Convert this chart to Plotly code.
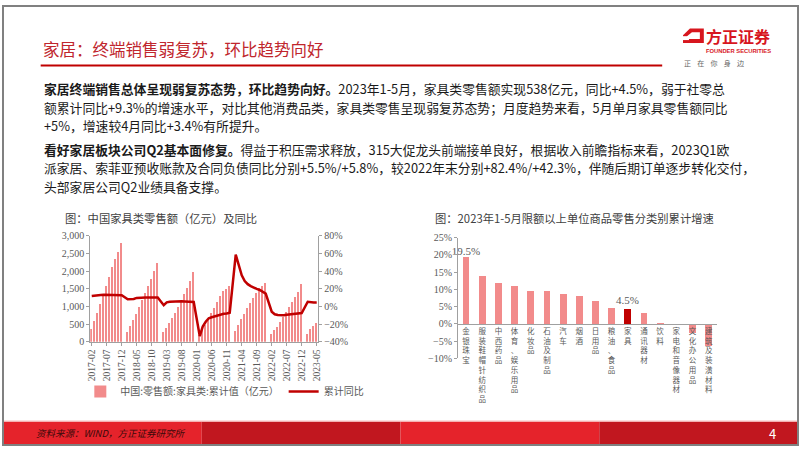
import plotly.graph_objects as go

W, H = 802, 451
def px(x): return x / W
def py(y): return 1 - y / H

# ---------------- data ----------------
month_labels = [f"{y}-{m:02d}" for y in range(2017, 2024) for m in range(1, 13)]
month_labels = month_labels[1:month_labels.index("2023-05") + 1]

furniture_sales = [
    365, 600, 825, 1070, 1330, 1590, 1840, 2110, 2360, 2535, 2790,
    None, 280, 445, 620, 800, 1000, 1190, 1390, 1580, 1790, 2010, 2250,
    None, 280, 390, 530, 670, 830, 990, 1170, 1350, 1540, 1730, 1970,
    None, 195, 330, 480, 645, 815, 970, 1130, 1300, 1440, 1500, 1598,
    None, 300, 470, 640, 800, 960, 1110, 1250, 1390, 1520, 1600, 1667,
    None, 230, 330, 440, 580, 720, 860, 1000, 1140, 1280, 1420, 1635,
    None, 230, 360, 448, 538,
]
furniture_yoy = [
    11.9, 12.5, 12.8, 13.0, 13.1, 13.1, 13.0, 12.9, 12.9, 12.7, 12.6,
    None, 8.1, 8.3, 8.4, 9.7, 10.0, 10.1, 10.1, 10.0, 10.1, 10.0, 10.1,
    None, 1.4, 4.6, 5.3, 5.6, 5.7, 5.8, 5.8, 5.7, 5.6, 5.3, 5.1,
    None, -33.5, -22.7, -17.3, -13.3, -12.2, -11.2, -9.9, -8.4, -8.2, -7.9, -7.0,
    None, 58.6, 46.8, 35.2, 28.7, 25.2, 23.0, 20.9, 19.8, 18.6, 16.4, 14.5,
    None, -6.0, -8.8, -9.6, -10.1, -9.9, -9.4, -9.1, -8.7, -8.5, -8.0, -7.5,
    None, 5.3, 4.7, 4.4, 4.5,
]

categories = ["金银珠宝", "服装鞋帽针纺织品", "中西药品", "体育、娱乐用品", "化妆品",
              "石油及制品", "汽车", "烟酒", "日用品", "粮油、食品", "家具",
              "通讯器材", "饮料", "家电和音像器材", "文化办公用品", "建筑及装潢材料"]
growth = [19.5, 14.0, 11.9, 11.0, 9.7, 9.5, 8.8, 8.2, 6.7, 4.7, 4.5, 3.3, 0.3, -0.1, -2.5, -6.4]
highlight = "家具"
labelled = {"金银珠宝", "家具"}

# ---------------- styles ----------------
CJK = "Noto Sans CJK SC"
SERIF = "Liberation Serif, Noto Sans CJK SC"
GRAY = "#595959"
AXIS = "#A0A0A0"
PINK = "#F28B8B"
DARKRED = "#C00000"

fig = go.Figure()

# left chart
fig.add_trace(go.Bar(x=month_labels, y=furniture_sales, name="中国:零售额:家具类:累计值（亿元）",
                     marker=dict(color=PINK, line=dict(width=0)), width=0.55,
                     xaxis="x", yaxis="y"))
fig.add_trace(go.Scatter(x=month_labels, y=furniture_yoy, name="累计同比", mode="lines",
                         connectgaps=True, line=dict(color=DARKRED, width=2.5),
                         xaxis="x", yaxis="y3"))

# right chart
fig.add_trace(go.Bar(x=categories, y=growth, showlegend=False,
                     marker=dict(color=[DARKRED if c == highlight else PINK for c in categories],
                                 line=dict(width=0)),
                     width=0.42,
                     text=[f"{v}%" if c in labelled else "" for c, v in zip(categories, growth)],
                     textposition="outside", cliponaxis=False, constraintext="none",
                     textfont=dict(family=SERIF, size=11, color=GRAY),
                     xaxis="x2", yaxis="y2"))

tick_every = month_labels[::5]

ydom_l = [py(345), py(236)]
ydom_r = [py(362), py(238)]
zero_r = ydom_r[0] + (ydom_r[1] - ydom_r[0]) * 10 / 35

fig.update_layout(
    width=W, height=H, margin=dict(l=0, r=0, t=0, b=0),
    paper_bgcolor="white", plot_bgcolor="white",
    bargap=0, showlegend=True,
    xaxis=dict(domain=[px(88), px(318)], type="category", range=[-0.5, len(month_labels) - 0.5],
               tickmode="array", tickvals=tick_every, ticktext=tick_every, tickangle=-90,
               tickfont=dict(family=SERIF, size=9.5, color=GRAY),
               showline=True, linecolor=AXIS, linewidth=1, ticks="outside", ticklen=3,
               tickcolor=AXIS, showgrid=False, anchor="y", fixedrange=True),
    yaxis=dict(domain=ydom_l, range=[0, 3000], dtick=500, tickformat=",",
               tickfont=dict(family=SERIF, size=10, color=GRAY),
               showline=True, linecolor=AXIS, ticks="outside", ticklen=3, tickcolor=AXIS,
               showgrid=False, zeroline=False, anchor="x"),
    yaxis3=dict(domain=ydom_l, range=[-40, 80], dtick=20, ticksuffix="%", overlaying="y",
                side="right", anchor="x",
                tickfont=dict(family=SERIF, size=10, color=GRAY),
                showline=True, linecolor=AXIS, ticks="outside", ticklen=3, tickcolor=AXIS,
                showgrid=False, zeroline=False),
    xaxis2=dict(domain=[px(459), px(720)], type="category", anchor="free", position=zero_r,
                tickmode="array", tickvals=categories,
                ticktext=["<br>".join(list(c)) for c in categories], tickangle=0,
                tickfont=dict(family=CJK, size=7.5, color=GRAY),
                showline=True, linecolor=AXIS, ticks="", showgrid=False, fixedrange=True),
    yaxis2=dict(domain=ydom_r, range=[-10, 25], dtick=5, ticksuffix="%", anchor="x2",
                tickfont=dict(family=SERIF, size=10, color=GRAY),
                showline=True, linecolor=AXIS, ticks="outside", ticklen=3, tickcolor=AXIS,
                showgrid=False, zeroline=False),
    legend=dict(orientation="h", x=px(78), y=py(396), xanchor="left", yanchor="middle",
                font=dict(family=CJK, size=10, color=GRAY), bgcolor="rgba(0,0,0,0)",
                itemwidth=30, tracegroupgap=0),
)

shapes = []
# title underline
shapes.append(dict(type="line", xref="paper", yref="paper", x0=px(38), x1=px(665),
                   y0=py(61), y1=py(61), line=dict(color="#C00000", width=2)))
# footer band
for i, col in enumerate(["#E5232B", "#C1171F", "#E5232B", "#C1171F"]):
    shapes.append(dict(type="rect", xref="paper", yref="paper", x0=i / 4, x1=(i + 1) / 4,
                       y0=py(450), y1=py(427), line=dict(width=0), fillcolor=col, layer="below"))
shapes.append(dict(type="line", xref="paper", yref="paper", x0=0, x1=1, y0=py(426.5), y1=py(426.5),
                   line=dict(color="#F3A6A6", width=1)))
# logo mark
def P(x, y): return f"{px(x):.5f},{py(y):.5f}"
shapes.append(dict(type="path", xref="paper", yref="paper",
                   path=f"M{P(686,30)} L{P(693,23)} L{P(707,23)} L{P(707,38)} L{P(686,38)} Z",
                   fillcolor="#D7161E", line=dict(width=0)))
shapes.append(dict(type="path", xref="paper", yref="paper",
                   path=f"M{P(690,31)} L{P(695,27)} L{P(703,27)} L{P(703,34)} L{P(690,34)} Z",
                   fillcolor="white", line=dict(width=0)))
shapes.append(dict(type="path", xref="paper", yref="paper",
                   path=f"M{P(684,31)} L{P(692,31)} L{P(692,35)} L{P(684,35)} Z",
                   fillcolor="white", line=dict(width=0)))
# slide border
shapes.append(dict(type="rect", xref="paper", yref="paper", x0=0, x1=1, y0=0, y1=1,
                   line=dict(color="#808080", width=2), fillcolor="rgba(0,0,0,0)"))
fig.update_layout(shapes=shapes)

ann = []
def text(x, y, s, size, color, family=CJK, xanchor="left", yanchor="middle"):
    ann.append(dict(x=px(x), y=py(y), xref="paper", yref="paper", text=s, showarrow=False,
                    xanchor=xanchor, yanchor=yanchor, align="left", borderpad=0,
                    font=dict(family=family, size=size, color=color)))

text(39, 44, "家居：终端销售弱复苏，环比趋势向好", 16.5, "#C0262D")
text(708, 31, "<b>方正证券</b>", 16, "#D7161E")
text(708, 46, "<b>FOUNDER SECURITIES</b>", 5.8, "#D7161E", family="Liberation Sans")
text(686, 59, "正&nbsp;&nbsp;&nbsp;&nbsp;在&nbsp;&nbsp;&nbsp;&nbsp;你&nbsp;&nbsp;&nbsp;&nbsp;身&nbsp;&nbsp;&nbsp;&nbsp;边", 7, "#666666")

body = [
    (85, "<b>家居终端销售总体呈现弱复苏态势，环比趋势向好。</b>2023年1-5月，家具类零售额实现538亿元，同比+4.5%，弱于社零总"),
    (104, "额累计同比+9.3%的增速水平，对比其他消费品类，家具类零售呈现弱复苏态势；月度趋势来看，5月单月家具零售额同比"),
    (123, "+5%，增速较4月同比+3.4%有所提升。"),
    (147, "<b>看好家居板块公司Q2基本面修复。</b>得益于积压需求释放，315大促龙头前端接单良好，根据收入前瞻指标来看，2023Q1欧"),
    (166, "派家居、索菲亚预收账款及合同负债同比分别+5.5%/+5.8%，较2022年末分别+82.4%/+42.3%，伴随后期订单逐步转化交付，"),
    (185, "头部家居公司Q2业绩具备支撑。"),
]
for y, s in body:
    text(40, y, s, 12.8, "#1A1A1A")

text(62, 218, "图：中国家具类零售额（亿元）及同比", 11.3, "#404040")
text(435, 218, "图：2023年1-5月限额以上单位商品零售分类别累计增速", 11.3, "#404040")

text(32, 439, "<i>资料来源：WIND，方正证券研究所</i>", 9.5, "#3A0A0A")
text(781, 439, "4", 13, "white", xanchor="right")

fig.update_layout(annotations=ann)
fig.write_html("out.html")
